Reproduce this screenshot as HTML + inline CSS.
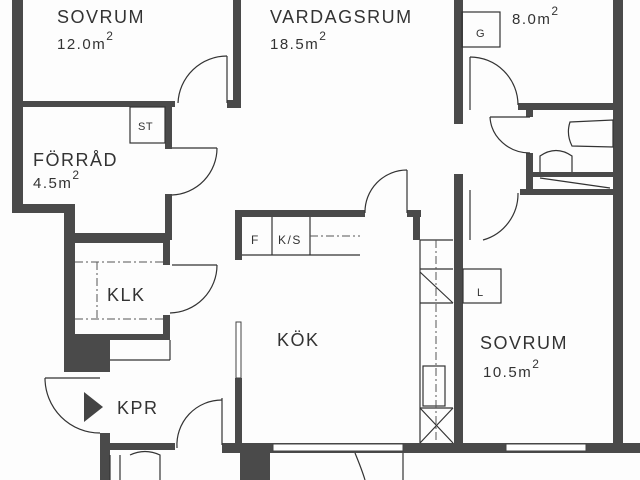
<!DOCTYPE html>
<html><head><style>html,body{margin:0;padding:0;background:#fff;}svg{display:block}</style></head>
<body>
<svg width="640" height="480" viewBox="0 0 640 480" xmlns="http://www.w3.org/2000/svg" font-family="Liberation Sans, sans-serif">
<rect width="640" height="480" fill="#fdfdfd"/>
<g fill="#4a4a4a">
<!-- left outer -->
<rect x="12" y="0" width="11" height="213"/>
<rect x="12" y="204" width="63" height="9"/>
<rect x="64" y="204" width="11" height="168"/>
<rect x="64" y="338" width="46" height="34"/>
<rect x="100" y="336" width="10" height="36"/>
<!-- sovrum/forrad divider -->
<rect x="12" y="101" width="163" height="6"/>
<rect x="165" y="101" width="7" height="48"/>
<rect x="165" y="194" width="7" height="46"/>
<!-- KLK -->
<rect x="64" y="233" width="106" height="10"/>
<rect x="163" y="240" width="7" height="25"/>
<rect x="163" y="315" width="7" height="25"/>
<rect x="64" y="334" width="106" height="6"/>
<!-- wall right of first door -->
<rect x="233" y="0" width="8" height="108"/>
<rect x="227" y="100" width="14" height="8"/>
<!-- vardagsrum / 8m2 -->
<rect x="454" y="0" width="9" height="124"/>
<rect x="454" y="174" width="9" height="271"/>
<!-- right outer -->
<rect x="613" y="0" width="10" height="448"/>
<!-- bathroom -->
<rect x="518" y="103" width="95" height="7"/>
<rect x="526" y="103" width="7" height="14"/>
<rect x="526" y="153" width="7" height="42"/>
<rect x="530" y="172" width="83" height="5"/>
<rect x="520" y="189" width="93" height="6"/>
<!-- kitchen -->
<rect x="235" y="210" width="130" height="7"/>
<rect x="235" y="210" width="7" height="50"/>
<rect x="235" y="378" width="7" height="72"/>
<rect x="407" y="210" width="14" height="7"/>
<rect x="413" y="210" width="7" height="30"/>
<!-- bottom wall -->
<rect x="222" y="443" width="418" height="10"/>
<rect x="240" y="443" width="30" height="37"/>
<rect x="100" y="443" width="75" height="7"/>
<rect x="100" y="433" width="10" height="47"/>
</g>
<!-- windows on bottom wall -->
<g fill="#fff" stroke="#444" stroke-width="1">
<rect x="273" y="444" width="130" height="7"/>
<rect x="506" y="444" width="80" height="7"/>
<rect x="236" y="322" width="5" height="56"/>
</g>
<g fill="none" stroke="#333" stroke-width="1.2">
<!-- doors -->
<line x1="227" y1="56" x2="227" y2="103"/>
<path d="M178 103 A49 49 0 0 1 227 56"/>
<line x1="172" y1="148" x2="217" y2="148"/>
<path d="M217 148 A47 47 0 0 1 172 195"/>
<line x1="470" y1="57" x2="470" y2="110"/>
<path d="M470 57 A48 48 0 0 1 518 105"/>
<line x1="490" y1="117" x2="530" y2="117"/>
<path d="M490 117 A40 38 0 0 0 530 153"/>
<line x1="470" y1="190" x2="470" y2="240"/>
<path d="M518 193 A48 48 0 0 1 483 240"/>
<line x1="407" y1="170" x2="407" y2="213"/>
<path d="M365 213 A42 42 0 0 1 407 170"/>
<line x1="172" y1="265" x2="217" y2="265"/>
<path d="M217 265 A48 48 0 0 1 170 313"/>
<line x1="45" y1="378" x2="100" y2="378"/>
<path d="M45 378 A55 55 0 0 0 100 433"/>
<line x1="222" y1="398" x2="222" y2="445"/>
<path d="M177 448 A45 45 0 0 1 222 400"/>
<path d="M355 453 Q362 470 365 480"/>
<line x1="403" y1="453" x2="403" y2="480"/>
<!-- boxes -->
<rect x="130" y="107" width="35" height="36"/>
<rect x="462" y="12" width="38" height="35"/>
<rect x="463" y="269" width="38" height="34"/>
<line x1="242" y1="255" x2="360" y2="255"/>
<line x1="272" y1="217" x2="272" y2="255"/>
<line x1="310" y1="217" x2="310" y2="255"/>
<line x1="420" y1="240" x2="420" y2="443"/>
<line x1="420" y1="240" x2="453" y2="240"/>
<line x1="420" y1="269" x2="453" y2="269"/>
<line x1="420" y1="303" x2="453" y2="303"/>
<line x1="420" y1="408" x2="453" y2="408"/>
<line x1="420" y1="408" x2="453" y2="443"/>
<line x1="453" y1="408" x2="420" y2="443"/>
<rect x="423" y="366" width="22" height="40"/>
<line x1="420" y1="272" x2="453" y2="303"/>
<line x1="110" y1="360" x2="170" y2="360"/>
<line x1="170" y1="340" x2="170" y2="360"/>
<!-- bath fixtures -->
<path d="M570 122 L613 120 L613 147 L572 146 Q566 134 570 122Z"/>
<path d="M540 172 L540 156 Q556 145 572 156 L572 172"/>
<line x1="540" y1="178" x2="610" y2="188"/>
<path d="M110 455 L110 480 M120 455 L120 480 M130 455 Q145 448 160 455 L160 480"/>
</g>
<g fill="none" stroke="#555" stroke-width="1" stroke-dasharray="8 3 2 3">
<line x1="75" y1="262" x2="163" y2="262"/>
<line x1="75" y1="319" x2="163" y2="319"/>
<line x1="97" y1="262" x2="97" y2="319"/>
<line x1="310" y1="236" x2="360" y2="236"/>
<line x1="436" y1="240" x2="436" y2="440"/>
</g>
<polygon points="84,392 84,422 103,407" fill="#444"/>
<g fill="#333" font-size="18" letter-spacing="1.5">
<text x="57" y="23">SOVRUM</text>
<text x="57" y="49" font-size="15">12.0m<tspan font-size="12" dy="-9">2</tspan></text>
<text x="270" y="23">VARDAGSRUM</text>
<text x="270" y="49" font-size="15">18.5m<tspan font-size="12" dy="-9">2</tspan></text>
<text x="512" y="24" font-size="15">8.0m<tspan font-size="12" dy="-9">2</tspan></text>
<text x="33" y="166">FÖRRÅD</text>
<text x="33" y="188" font-size="15">4.5m<tspan font-size="12" dy="-9">2</tspan></text>
<text x="107" y="301">KLK</text>
<text x="277" y="346">KÖK</text>
<text x="117" y="414">KPR</text>
<text x="480" y="349">SOVRUM</text>
<text x="483" y="377" font-size="15">10.5m<tspan font-size="12" dy="-9">2</tspan></text>
<text x="138" y="130" font-size="11" letter-spacing="0.5">ST</text>
<text x="476" y="37" font-size="11">G</text>
<text x="477" y="296" font-size="11">L</text>
<text x="251" y="244" font-size="12">F</text>
<text x="278" y="244" font-size="12">K/S</text>
</g>
</svg>
</body></html>
